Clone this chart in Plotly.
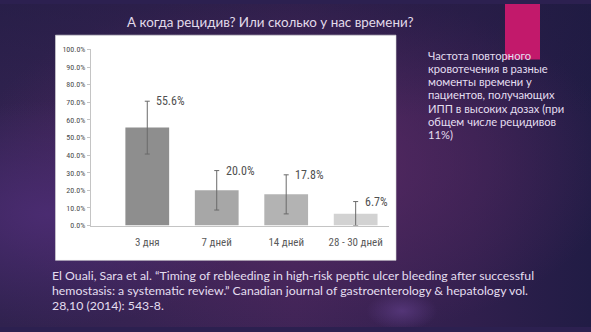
import base64
import plotly.graph_objects as go

# Rebleeding rate by time point (%), with confidence spans
categories = ["3 дня", "7 дней", "14 дней", "28 - 30 дней"]
rates = [55.6, 20.0, 17.8, 6.7]
err_plus = [15.0, 11.2, 11.0, 6.9]
err_minus = [15.0, 11.2, 11.2, 6.7]
bar_colors = ["#8e8e8e", "#a7a7a7", "#b3b3b3", "#d2d2d2"]
y_ticks = [0, 10, 20, 30, 40, 50, 60, 70, 80, 90, 100]

title_text = "А когда рецидив? Или сколько у нас времени?"
side_note_lines = ["Частота повторного", "кровотечения в разные", "моменты времени у",
                   "пациентов, получающих", "ИПП в высоких дозах (при",
                   "общем числе рецидивов", "11%)"]
citation_lines = [
    "El Ouali, Sara et al. “Timing of rebleeding in high-risk peptic ulcer bleeding after successful",
    "hemostasis: a systematic review.” Canadian journal of gastroenterology &amp; hepatology vol.",
    "28,10 (2014): 543-8.",
]

W, H = 591, 332
NARROW = "Liberation Sans Narrow, Arial Narrow, Roboto Condensed, Liberation Sans, sans-serif"
SLIDE = "Lato, Open Sans, DejaVu Sans, sans-serif"

# slide backdrop: dark violet with soft purple glows
svg = f"""<svg xmlns='http://www.w3.org/2000/svg' width='{W}' height='{H}'>
<defs>
<linearGradient id='b' x1='0' y1='0' x2='1' y2='0'>
<stop offset='0' stop-color='#30224f'/><stop offset='0.5' stop-color='#3e2456'/>
<stop offset='0.8' stop-color='#301f4d'/><stop offset='1' stop-color='#211c45'/></linearGradient>
<radialGradient id='g1' cx='0.5' cy='0.5' r='0.55'>
<stop offset='0' stop-color='#5c2a66' stop-opacity='0.85'/><stop offset='1' stop-color='#5c2a66' stop-opacity='0'/></radialGradient>
<radialGradient id='g2' cx='0.08' cy='0.65' r='0.35'>
<stop offset='0' stop-color='#4b2c72' stop-opacity='0.95'/><stop offset='1' stop-color='#4b2c72' stop-opacity='0'/></radialGradient>
<linearGradient id='t' x1='0' y1='0' x2='0' y2='1'>
<stop offset='0' stop-color='#1e1a40' stop-opacity='0.45'/><stop offset='0.35' stop-color='#1e1a40' stop-opacity='0'/></linearGradient>
<radialGradient id='g3' cx='0.68' cy='0.95' r='0.06'>
<stop offset='0' stop-color='#5a3a80' stop-opacity='0.8'/><stop offset='1' stop-color='#5a3a80' stop-opacity='0'/></radialGradient>
</defs>
<rect width='100%' height='100%' fill='url(#b)'/>
<rect width='100%' height='100%' fill='url(#g1)'/>
<rect width='100%' height='100%' fill='url(#g2)'/>
<rect width='100%' height='100%' fill='url(#t)'/>
<rect width='100%' height='100%' fill='url(#g3)'/>
</svg>"""
bg_src = "data:image/svg+xml;base64," + base64.b64encode(svg.encode()).decode()


def px_x(v):
    return v / W


def px_y(v):
    return 1 - v / H


fig = go.Figure()
fig.add_trace(go.Bar(
    x=categories, y=rates, width=0.63,
    marker=dict(color=bar_colors, line=dict(width=0)),
    error_y=dict(type="data", symmetric=False, array=err_plus, arrayminus=err_minus,
                 color="#6a6a6a", thickness=1, width=2.5),
    hoverinfo="skip",
))

# value labels beside each error-bar cap
for c, v, e in zip(categories, rates, err_plus):
    fig.add_annotation(x=c, y=v + e, xref="x", yref="y", text=f"{v:.1f}%",
                       showarrow=False, xanchor="left", yanchor="middle", xshift=7,
                       font=dict(family=NARROW, size=12, color="#505050"))

fig.add_annotation(x=px_x(270), y=px_y(18), xref="paper", yref="paper", text=title_text,
                   showarrow=False, xanchor="center", yanchor="middle",
                   font=dict(family=SLIDE, size=13.4, color="#e2dbea"))

for i, line in enumerate(side_note_lines):
    fig.add_annotation(x=px_x(426), y=px_y(53 + 13.5 * i), xref="paper", yref="paper",
                       text=line, showarrow=False, xanchor="left", yanchor="middle",
                       font=dict(family=SLIDE, size=11.2, color="#e4def0"))

for i, line in enumerate(citation_lines):
    fig.add_annotation(x=px_x(50), y=px_y(279.5 + 15.3 * i), xref="paper", yref="paper",
                       text=line, showarrow=False, xanchor="left", yanchor="middle",
                       font=dict(family=SLIDE, size=12.3, color="#e4def0"))

fig.update_layout(
    width=W, height=H, margin=dict(l=0, r=0, t=0, b=0),
    paper_bgcolor="#2c2050", plot_bgcolor="rgba(0,0,0,0)",
    showlegend=False,
    images=[dict(source=bg_src, xref="paper", yref="paper", x=0, y=1, sizex=1, sizey=1,
                 xanchor="left", yanchor="top", sizing="stretch", layer="below")],
    shapes=[
        dict(type="rect", xref="paper", yref="paper", layer="below",
             x0=px_x(55.5), x1=px_x(396), y0=px_y(263.5), y1=px_y(32),
             fillcolor="white", line=dict(color="#d8d8d8", width=0.6)),
        dict(type="rect", xref="paper", yref="paper", layer="below",
             x0=px_x(505), x1=px_x(540), y0=px_y(57), y1=1.0,
             fillcolor="#c2196b", line=dict(width=0)),
    ],
    xaxis=dict(domain=[px_x(91), px_x(389)], range=[-0.81, 3.48],
               showline=True, linecolor="#c4c4c4", linewidth=1, ticks="",
               showgrid=False, zeroline=False, ticklabelstandoff=6,
               tickfont=dict(family=NARROW, size=11, color="#5a5a5a")),
    yaxis=dict(domain=[px_y(227.7), px_y(46.7)], range=[0, 100],
               tickvals=y_ticks, ticktext=[f"{t:.1f}%" for t in y_ticks],
               showline=True, linecolor="#c4c4c4", linewidth=1,
               ticks="outside", ticklen=3, tickcolor="#c4c4c4",
               showgrid=False, zeroline=False,
               tickfont=dict(family=NARROW, size=8, color="#4a4a4a")),
)

fig.write_html("out.html")
